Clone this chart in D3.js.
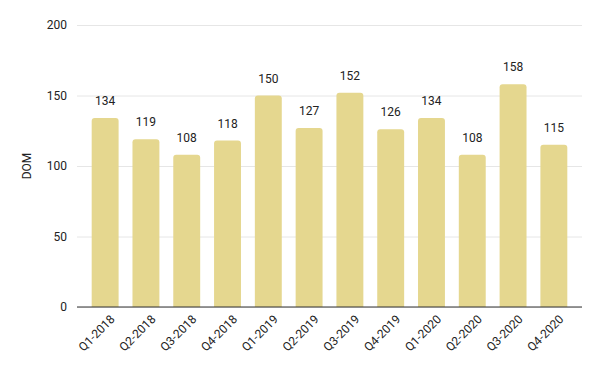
<!DOCTYPE html>
<html>
<head>
<meta charset="utf-8">
<script src="https://cdn.jsdelivr.net/npm/d3@7"></script>
<style>
  body { margin: 0; background: #fff; }
  text { font-family: Roboto, "Noto Sans", sans-serif; }
</style>
</head>
<body>
<div id="chart"></div>
<script>
const width = 600;
const height = 371;
const margin = { top: 25, right: 18, bottom: 64, left: 77 };

const quarters = ["Q1-2018", "Q2-2018", "Q3-2018", "Q4-2018", "Q1-2019", "Q2-2019",
  "Q3-2019", "Q4-2019", "Q1-2020", "Q2-2020", "Q3-2020", "Q4-2020"];
const dom = [134, 119, 108, 118, 150, 127, 152, 126, 134, 108, 158, 115];
const yTicks = [0, 50, 100, 150, 200];

const svg = d3.select("#chart")
  .append("svg")
  .attr("width", width)
  .attr("height", height);

const xScale = d3.scaleBand()
  .domain(quarters)
  .range([margin.left, width - margin.right])
  .paddingInner(0.34)
  .paddingOuter(0.36);

const yScale = d3.scaleLinear()
  .domain([0, 200])
  .range([height - margin.bottom, margin.top]);

// gridlines + y labels
const yAxis = d3.axisLeft(yScale)
  .tickValues(yTicks)
  .tickSize(-(width - margin.left - margin.right))
  .tickPadding(10);

svg.append("g")
  .attr("transform", `translate(${margin.left}, 0)`)
  .call(yAxis)
  .call(g => g.select(".domain").remove())
  .call(g => g.selectAll(".tick line").attr("stroke", "#e6e6e6"))
  .call(g => g.selectAll(".tick text")
    .attr("fill", "#222")
    .style("font-size", "12px"));

// bars with rounded tops
const r = 3;
svg.append("g")
  .selectAll("path")
  .data(quarters)
  .join("path")
  .attr("fill", "#e5d78f")
  .attr("d", (q, i) => {
    const x0 = xScale(q), w = xScale.bandwidth();
    const y0 = yScale(dom[i]), y1 = yScale(0);
    return `M${x0},${y1}V${y0 + r}Q${x0},${y0} ${x0 + r},${y0}H${x0 + w - r}Q${x0 + w},${y0} ${x0 + w},${y0 + r}V${y1}Z`;
  });

// value labels
svg.append("g")
  .selectAll("text")
  .data(quarters)
  .join("text")
  .attr("x", q => xScale(q) + xScale.bandwidth() / 2)
  .attr("y", (q, i) => yScale(dom[i]) - 13)
  .attr("text-anchor", "middle")
  .attr("fill", "#222")
  .style("font-size", "12px")
  .text((q, i) => dom[i]);

// x axis
const xAxis = d3.axisBottom(xScale).tickSize(0).tickPadding(10);
svg.append("g")
  .attr("transform", `translate(0, ${yScale(0)})`)
  .call(xAxis)
  .call(g => g.select(".domain").attr("stroke", "#333").attr("stroke-width", 1.2)
    .attr("d", `M${margin.left},0H${width - margin.right}`))
  .call(g => g.selectAll(".tick text")
    .attr("fill", "#222")
    .style("font-size", "12px")
    .attr("text-anchor", "end")
    .attr("dx", "-0.15em")
    .attr("dy", "0.55em")
    .attr("transform", "rotate(-45)"));

// y title
svg.append("text")
  .attr("transform", `translate(31, ${(yScale(0) + yScale(200)) / 2}) rotate(-90)`)
  .attr("text-anchor", "middle")
  .attr("fill", "#222")
  .style("font-size", "12px")
  .text("DOM");
</script>
</body>
</html>
